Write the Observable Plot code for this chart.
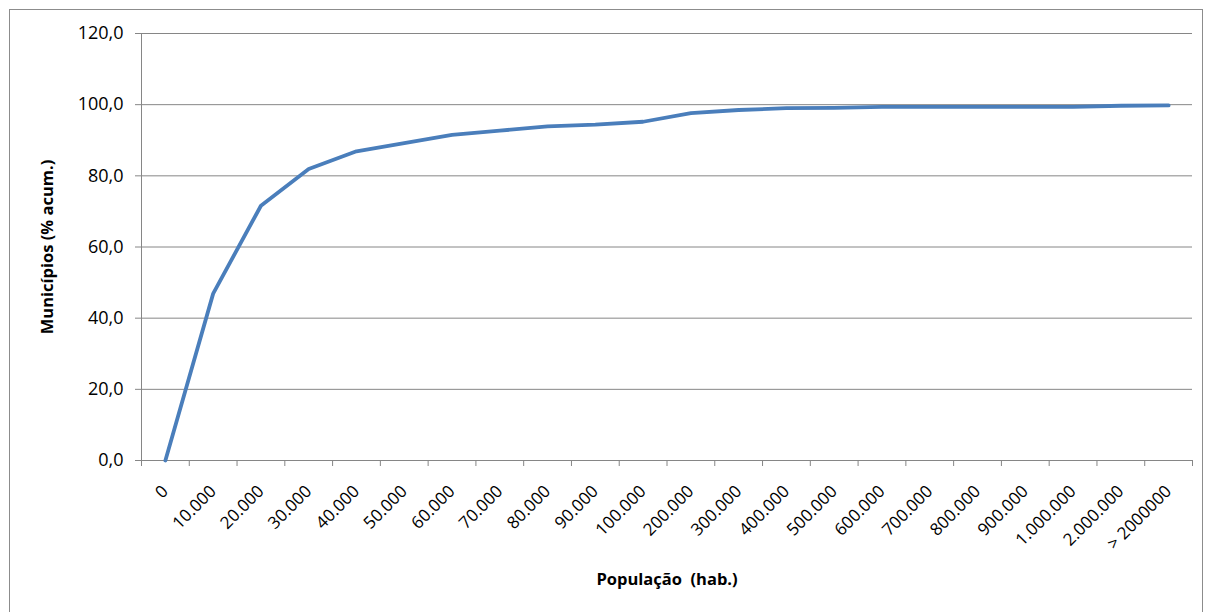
<!DOCTYPE html>
<html><head><meta charset="utf-8">
<script src="https://cdn.jsdelivr.net/npm/d3@7"></script>
<script src="https://cdn.jsdelivr.net/npm/@observablehq/plot@0.6"></script>
<style>
body{margin:0;background:#fff;}
#wrap{position:relative;width:1205px;height:612px;overflow:hidden;}
#frame{position:absolute;left:9px;top:9px;width:1194px;height:700px;border:1px solid #8c8c8c;box-sizing:border-box;}
#wrap svg{position:absolute;left:0;top:0;}
svg text{white-space:pre;}
</style></head><body><div id="wrap"><div id="frame"></div></div>
<script>
const categories = ["0","10.000","20.000","30.000","40.000","50.000","60.000","70.000","80.000","90.000","100.000","200.000","300.000","400.000","500.000","600.000","700.000","800.000","900.000","1.000.000","2.000.000","> 2000000"];
const values = [0, 46.9, 71.6, 81.9, 86.9, 89.2, 91.5, 92.7, 93.9, 94.4, 95.2, 97.6, 98.5, 99.0, 99.1, 99.4, 99.4, 99.4, 99.4, 99.4, 99.7, 99.8];
const yTicks = [0, 20, 40, 60, 80, 100, 120];
const xTitle = "População  (hab.)";
const yTitle = "Municípios (% acum.)";

const data = categories.map((c, i) => ({i, c, v: values[i]}));
const boundaries = d3.range(categories.length + 1).map(i => i - 0.5);
const fmt = d => d.toFixed(1).replace(".", ",");

const chart = Plot.plot({
  width: 1205, height: 612,
  marginLeft: 141, marginRight: 13, marginTop: 33, marginBottom: 152,
  style: {fontFamily: "'Open Sans', sans-serif", fontSize: "16px", color: "#000", background: "transparent"},
  x: {domain: [-0.5, categories.length - 0.5]},
  y: {domain: [0, 120]},
  marks: [
    Plot.gridY(yTicks, {stroke: "#868686", strokeOpacity: 1}),
    Plot.axisY(yTicks, {tickSize: 6, tickPadding: 12, tickFormat: fmt, stroke: "#868686", fill: "#000", fontSize: 18, label: null}),
    Plot.ruleX([-0.5], {stroke: "#868686"}),
    Plot.axisX(boundaries, {tickSize: 6, tickFormat: () => "", stroke: "#868686", label: null}),
    Plot.text(data, {x: "i", y: () => 0, text: "c", rotate: -45, textAnchor: "end", dy: 28, fontSize: 17, fill: "#000"}),
    Plot.line(data, {x: "i", y: "v", stroke: "#4a7ebb", strokeWidth: 3.8}),
    Plot.text([xTitle], {frameAnchor: "bottom", dy: 124, fontWeight: "bold", fontSize: 16.5, fill: "#000"}),
    Plot.text([yTitle], {frameAnchor: "left", textAnchor: "middle", dx: -94, rotate: -90, fontWeight: "bold", fontSize: 16.5, fill: "#000"})
  ]
});
document.getElementById("wrap").appendChild(chart);
</script></body></html>
